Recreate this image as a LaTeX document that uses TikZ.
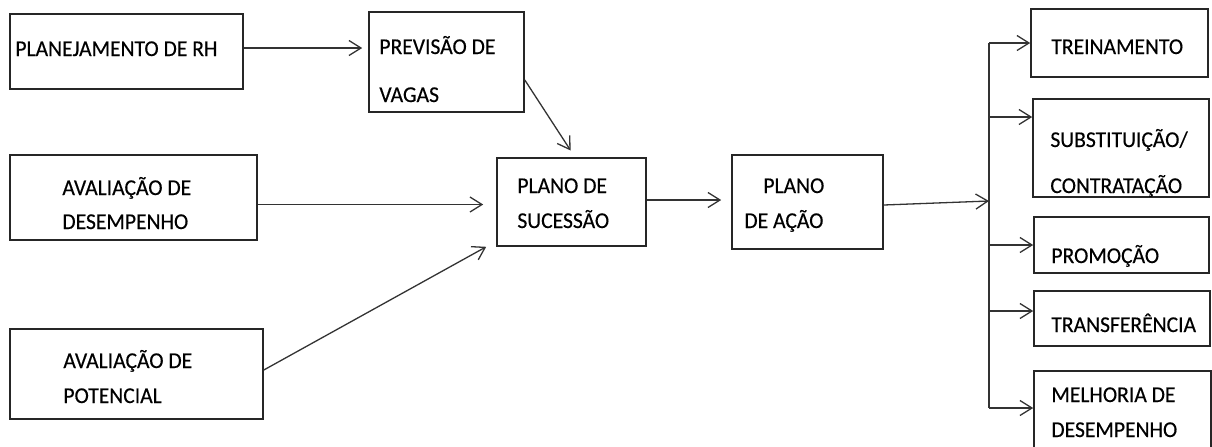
\documentclass[tikz,border=0pt]{standalone}
\usepackage{fontspec}
\setmainfont{Carlito}[FakeStretch=0.955,FakeBold=0.35]
\usetikzlibrary{arrows.meta,fit}
\begin{document}
\begin{tikzpicture}[x=0.5pt,y=-0.5pt,
 box/.style={draw=black!85, line width=0.8pt, inner sep=0pt},
 txt/.style={inner sep=0pt, anchor=base west, font=\fontsize{11.3pt}{13pt}\selectfont, text=black},
 conn/.style={draw=black!80, line width=0.65pt},
 arr/.style={conn, -{Straight Barb[length=6pt,width=7.5pt]}}]
\useasboundingbox (0,0) rectangle (1212,446);
% boxes
\node[box, fit={(10,14) (243,89)}] (rh) {};
\node[box, fit={(369,12) (524,112)}] (prev) {};
\node[box, fit={(10,155) (257,240)}] (des) {};
\node[box, fit={(497,158) (646,246)}] (suc) {};
\node[box, fit={(10,329) (263,419)}] (pot) {};
\node[box, fit={(732,155) (883,249)}] (acao) {};
\node[box, fit={(1031,9) (1208,77)}] (trei) {};
\node[box, fit={(1033,99) (1209,197)}] (subs) {};
\node[box, fit={(1034,217) (1209,273)}] (prom) {};
\node[box, fit={(1034,291) (1210,346)}] (tran) {};
\node[box, fit={(1034,371) (1211,449)}] (melh) {};
% texts
\node[txt] (t-rh) at (15,56) {PLANEJAMENTO DE RH};
\node[txt] (t-prev1) at (379,54) {PREVISÃO DE};
\node[txt] (t-prev2) at (379,102) {VAGAS};
\node[txt] (t-des1) at (62,195) {AVALIAÇÃO DE};
\node[txt] (t-des2) at (62,229) {DESEMPENHO};
\node[txt] (t-suc1) at (517,193) {PLANO DE};
\node[txt] (t-suc2) at (517,228) {SUCESSÃO};
\node[txt] (t-pot1) at (63,368) {AVALIAÇÃO DE};
\node[txt] (t-pot2) at (63,403) {POTENCIAL};
\node[txt] (t-ac1) at (763,193) {PLANO};
\node[txt] (t-ac2) at (744,228) {DE AÇÃO};
\node[txt] (t-tr) at (1051,54) {TREINAMENTO};
\node[txt] (t-su1) at (1050,147) {SUBSTITUIÇÃO/};
\node[txt] (t-su2) at (1050,193) {CONTRATAÇÃO};
\node[txt] (t-pr) at (1051,263) {PROMOÇÃO};
\node[txt] (t-ta) at (1051,332) {TRANSFERÊNCIA};
\node[txt] (t-me1) at (1051,402) {MELHORIA DE};
\node[txt] (t-me2) at (1051,437) {DESEMPENHO};
% connectors
\draw[arr, shorten >=3pt] ([yshift=1.75pt]rh.east) -- ([yshift=7pt]prev.west);
\draw[arr, shorten >=4pt] ([yshift=-9pt]prev.east) -- ([xshift=1.75pt]suc.north);
\draw[arr, shorten >=6.5pt] ([yshift=-3.5pt]des.east) -- ([yshift=-1.25pt]suc.west);
\draw[arr] ([yshift=2pt]pot.east) -- ([xshift=-5pt]suc.south west);
\draw[arr, shorten >=5pt] ([yshift=1pt]suc.east) -- ([yshift=1pt]acao.west);
\coordinate (jt) at (989,43);
\coordinate (j2) at (989,117);
\coordinate (jm) at (989,201);
\coordinate (j3) at (989,245);
\coordinate (j4) at (989,311);
\coordinate (jb) at (989,408);
\draw[conn] (jt) -- (jb);
\draw[arr] ([yshift=-1.5pt]acao.east) -- (jm);
\draw[arr] (jt) -- (trei.west);
\draw[arr] (j2) -- ([yshift=15.5pt]subs.west);
\draw[arr] (j3) -- (prom.west);
\draw[arr] (j4) -- ([yshift=3.75pt]tran.west);
\draw[arr] (jb) -- ([yshift=1pt]melh.west);
\end{tikzpicture}
\end{document}
